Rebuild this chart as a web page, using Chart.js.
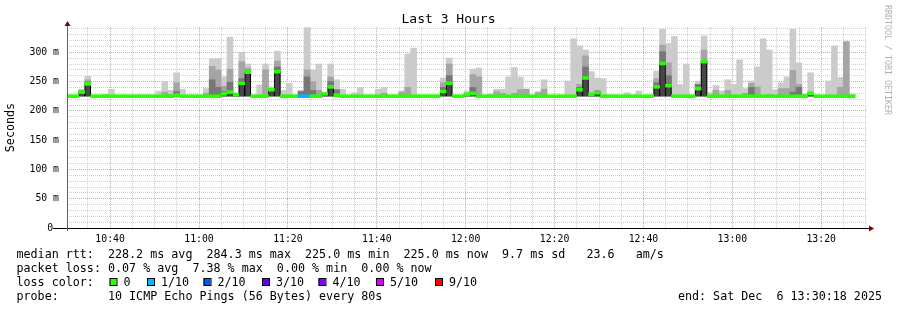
<!DOCTYPE html>
<html>
<head>
<meta charset="utf-8">
<title>Last 3 Hours</title>
<script src="https://cdn.jsdelivr.net/npm/chart.js@4.4.0/dist/chart.umd.min.js"></script>
<style>
  html, body { margin: 0; padding: 0; background: #fff; }
  canvas { display: block; }
</style>
</head>
<body>
<canvas id="smoke" width="897" height="310"></canvas>
<script>
// time range: 3 hours ending 13:30:18, one step every 80 s
const startSec = 10 * 3600 + 30 * 60 + 18;
const endSec = startSec + 3 * 3600;
const stepSec = 80;
const pingFloor = 225;

// ms, one value per step (null = no data yet)
const smokeMax = [
  225,225,237,259,225,225,228,237,225,225,
  225,225,225,225,225,234,250,235,265,237,
  225,225,225,238,289,289,258,326,230,300,
  280,225,244,280,241,302,235,247,225,235,
  342,270,280,230,280,253,237,225,231,240,
  225,225,237,240,225,225,234,297,307,225,
  225,225,225,256,290,225,225,234,271,273,
  225,229,237,237,258,274,258,237,225,233,
  253,225,225,225,251,323,311,304,267,256,
  255,225,225,225,231,225,234,225,225,268,
  339,315,327,245,280,225,250,328,231,243,
  234,253,245,287,238,251,275,323,304,236,
  248,258,339,282,229,265,225,225,251,311,
  257,318,228,null,null
];
const smokeUpper = [
  225,225,235,253,225,225,225,225,225,225,
  225,225,225,225,225,225,232,228,248,225,
  225,225,225,230,276,270,242,271,228,284,
  273,225,225,270,238,285,225,225,225,233,
  270,250,235,229,258,236,225,225,225,225,
  225,225,225,230,225,225,232,240,225,225,
  225,225,225,248,280,225,225,228,262,258,
  225,225,233,230,225,230,236,237,225,231,
  237,225,225,225,225,225,245,294,228,234,
  225,225,225,225,225,225,225,225,225,255,
  312,282,225,225,225,225,245,304,225,235,
  225,235,225,225,230,247,241,225,228,225,
  238,238,269,245,225,230,225,225,225,225,
  240,318,225,null,null
];
const smokeInner = [
  225,225,234,249,225,225,225,225,225,225,
  225,225,225,225,225,225,225,225,233,225,
  225,225,225,225,253,240,233,249,228,255,
  268,225,225,225,236,275,225,225,225,233,
  258,235,225,229,250,236,225,225,225,225,
  225,225,225,225,225,225,225,225,225,225,
  225,225,225,240,260,225,225,228,240,225,
  225,225,225,225,225,225,225,225,225,225,
  225,225,225,225,225,225,240,275,228,234,
  225,225,225,225,225,225,225,225,225,248,
  301,260,225,225,225,225,245,285,225,225,
  225,225,225,225,225,240,225,225,225,225,
  225,225,232,240,225,230,225,225,225,225,
  225,225,225,null,null
];
const medianRtt = [
  225,225,232,246,225,225,225,225,225,225,
  225,225,225,225,225,225,225,225,227,225,
  225,225,225,225,225,225,229,232,228,247,
  266,225,225,225,236,267,225,225,225,225,
  225,225,225,229,241,227,225,225,225,225,
  225,225,225,225,225,225,225,225,225,225,
  225,225,225,233,247,225,225,228,230,225,
  225,225,225,225,225,225,225,225,225,225,
  225,225,225,225,225,225,236,256,228,231,
  225,225,225,225,225,225,225,225,225,241,
  281,243,225,225,225,225,238,284,225,225,
  225,225,225,225,225,225,225,225,225,225,
  225,225,225,225,225,230,225,225,225,225,
  225,225,225,null,null
];
// lost pings out of 10
const lossCount = [
  0,0,0,0,0,0,0,0,0,0,
  0,0,0,0,0,0,0,0,0,0,
  0,0,0,0,0,0,0,0,0,0,
  0,0,0,0,0,0,0,0,0,1,
  1,0,0,0,0,0,0,0,0,0,
  0,0,0,0,0,0,0,0,0,0,
  0,0,0,0,0,0,0,0,0,0,
  0,0,0,0,0,0,0,0,0,0,
  0,0,0,0,0,0,0,0,0,0,
  0,0,0,0,0,0,0,0,0,0,
  0,0,0,0,0,0,0,0,0,0,
  0,0,0,0,0,0,0,0,0,0,
  0,0,0,0,0,0,0,0,0,0,
  0,0,0,null,null
];

const lossLevels = [0, 1, 2, 3, 4, 5, 9];
const lossLabels = ['0', '1/10', '2/10', '3/10', '4/10', '5/10', '9/10'];
const lossColors = ['#26ff00', '#00b8ff', '#0059ff', '#5e00ff', '#7e00ff', '#dd00ff', '#ff0000'];

const legendLines = [
  'median rtt:  228.2 ms avg  284.3 ms max  225.0 ms min  225.0 ms now  9.7 ms sd   23.6   am/s',
  'packet loss: 0.07 % avg  7.38 % max  0.00 % min  0.00 % now',
  'loss color:',
  'probe:       10 ICMP Echo Pings (56 Bytes) every 80s'
];
const endText = 'end: Sat Dec  6 13:30:18 2025';

const pad2 = n => String(n).padStart(2, '0');
const hhmm = min => pad2(Math.floor(min / 60)) + ':' + pad2(Math.round(min) % 60);
const stepLabels = smokeMax.map((_, i) => {
  const s = startSec + i * stepSec;
  return pad2(Math.floor(s / 3600)) + ':' + pad2(Math.floor(s / 60) % 60) + ':' + pad2(s % 60);
});

const band = arr => arr.map(v => (v != null && v > pingFloor ? [pingFloor, v] : null));
const lossColor = n => {
  let c = lossColors[0];
  lossLevels.forEach((l, i) => { if (n != null && n >= l) c = lossColors[i]; });
  return c;
};

const MONO = '"DejaVu Sans Mono", monospace';
const minorGrid = '#cfcfcf';
const majorGrid = '#f09a9a';

// extra rrdtool style decorations: axes with arrows, legend text, watermark
const rrdDecor = {
  id: 'rrdDecor',
  afterDraw(chart) {
    const { ctx, chartArea: a } = chart;
    ctx.save();
    ctx.lineWidth = 1;
    ctx.strokeStyle = '#000';
    ctx.beginPath();
    ctx.moveTo(a.left - 14, a.bottom + 0.5);
    ctx.lineTo(a.right + 2, a.bottom + 0.5);
    ctx.stroke();
    ctx.strokeStyle = '#606060';
    ctx.beginPath();
    ctx.moveTo(a.left + 0.5, a.bottom + 3);
    ctx.lineTo(a.left + 0.5, a.top - 2);
    ctx.stroke();

    ctx.fillStyle = '#800000';
    ctx.beginPath();
    ctx.moveTo(a.left + 0.5, a.top - 6);
    ctx.lineTo(a.left - 2.5, a.top - 1);
    ctx.lineTo(a.left + 3.5, a.top - 1);
    ctx.closePath();
    ctx.fill();
    ctx.beginPath();
    ctx.moveTo(a.right + 7, a.bottom + 0.5);
    ctx.lineTo(a.right + 2, a.bottom - 2.5);
    ctx.lineTo(a.right + 2, a.bottom + 3.5);
    ctx.closePath();
    ctx.fill();

    // legend
    ctx.font = '11.7px ' + MONO;
    ctx.fillStyle = '#000';
    ctx.textBaseline = 'middle';
    ctx.textAlign = 'left';
    const rows = [255, 268.5, 282.5, 296.5];
    legendLines.forEach((t, i) => ctx.fillText(t, 16.5, rows[i]));
    const boxX = [109.5, 147, 203.5, 262, 318.5, 376, 435];
    lossLabels.forEach((lab, i) => {
      ctx.fillStyle = lossColors[i];
      ctx.fillRect(boxX[i], 278.5, 7, 7);
      ctx.strokeStyle = '#000';
      ctx.strokeRect(boxX[i] + 0.5, 278.5, 7, 7);
      ctx.fillStyle = '#000';
      ctx.fillText(lab, boxX[i] + 14, rows[2]);
    });
    ctx.textAlign = 'right';
    ctx.fillText(endText, 882, rows[3]);

    // watermark
    ctx.translate(887.5, 5);
    ctx.rotate(Math.PI / 2);
    ctx.font = '8.3px ' + MONO;
    ctx.fillStyle = '#b0b0b0';
    ctx.textAlign = 'left';
    ctx.fillText('RRDTOOL / TOBI OETIKER', 0, 0);
    ctx.restore();
  }
};

// ticks on every multiple of step inside the scale range
const every = step => s => {
  const t = [];
  for (let v = Math.ceil(s.min / step - 1e-9) * step; v <= s.max + 1e-9; v += step) t.push({ value: v });
  s.ticks = t;
};

new Chart(document.getElementById('smoke'), {
  type: 'bar',
  data: {
    labels: stepLabels,
    datasets: [
      { label: 'median', data: medianRtt.map(v => (v == null ? null : [v - 2.5, v + 2.5])),
        backgroundColor: lossCount.map(lossColor), order: 0 },
      { label: 'below median', data: medianRtt.map(v => (v != null && v > pingFloor + 0.5 ? [pingFloor, v] : null)),
        backgroundColor: '#474747', borderColor: '#000',
        borderWidth: { left: 1, right: 1, top: 0, bottom: 0 }, borderSkipped: false, order: 1 },
      { label: 'inner smoke', data: band(smokeInner), backgroundColor: '#777777', order: 2 },
      { label: 'upper smoke', data: band(smokeUpper), backgroundColor: '#a5a5a5', order: 3 },
      { label: 'max smoke', data: band(smokeMax), backgroundColor: '#cbcbcb', order: 4 }
    ]
  },
  options: {
    responsive: false,
    animation: false,
    devicePixelRatio: 1,
    datasets: { bar: { grouped: false, barPercentage: 1, categoryPercentage: 1 } },
    layout: { padding: 0 },
    font: { family: MONO },
    plugins: {
      legend: { display: false },
      tooltip: { enabled: false },
      title: {
        display: true, text: 'Last 3 Hours', color: '#000',
        font: { family: MONO, size: 13, weight: 'normal' },
        padding: { top: 11.5, bottom: 0 }
      }
    },
    scales: {
      x: { type: 'category', display: false, offset: true, grid: { display: false } },
      xt: {
        type: 'linear', position: 'bottom', offset: false,
        min: startSec / 60, max: endSec / 60,
        afterBuildTicks: every(5),
        afterFit: s => { s.height = 82; },
        ticks: {
          autoSkip: false, maxRotation: 0, minRotation: 0,
          padding: 6, color: '#000', font: { family: MONO, size: 9.8 },
          callback: v => (Math.round(v) % 20 === 0 ? hhmm(v) : '')
        },
        grid: {
          offset: false, drawTicks: false,
          color: c => (c.tick && Math.round(c.tick.value) % 20 === 0 ? majorGrid : minorGrid)
        },
        border: { display: false, dash: [1, 1] }
      },
      y: {
        type: 'linear', min: 0, max: 343,
        afterBuildTicks: every(10),
        afterFit: s => { s.width = 67; },
        title: {
          display: true, text: 'Seconds', color: '#000',
          font: { family: MONO, size: 11.7 }, padding: { top: 3.5, bottom: 0 }
        },
        ticks: {
          autoSkip: false, padding: 8, color: '#000',
          font: { family: MONO, size: 9.8 },
          callback: v => (v === 0 ? '0 ' : v % 50 === 0 ? v + ' m' : '')
        },
        grid: {
          drawTicks: false,
          color: c => (!c.tick || c.tick.value === 0 ? 'rgba(0,0,0,0)'
            : c.tick.value % 50 === 0 ? majorGrid : minorGrid)
        },
        border: { display: false, dash: [1, 1] }
      },
      // empty strip on the right, keeps the plot 30px from the edge
      yr: {
        type: 'linear', position: 'right', display: true,
        afterFit: s => { s.width = 30; },
        ticks: { display: false },
        grid: { display: false },
        border: { display: false }
      }
    }
  },
  plugins: [rrdDecor]
});
</script>
</body>
</html>
